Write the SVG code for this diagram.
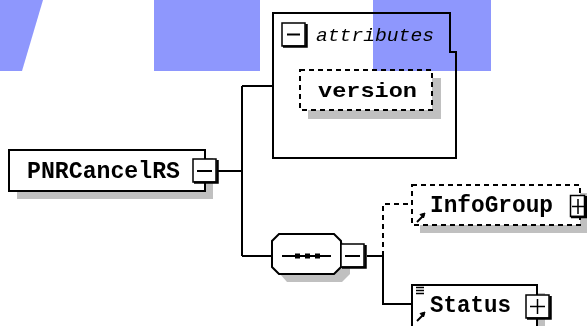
<svg xmlns="http://www.w3.org/2000/svg" width="587" height="326" viewBox="0 0 587 326">
<style>
.box{fill:#fff;stroke:#000;stroke-width:2}
.dash{fill:#fff;stroke:#000;stroke-width:2;stroke-dasharray:5,4}
.shadow{fill:#c0c0c0}
.ln{fill:none;stroke:#000;stroke-width:2}
.dl{fill:none;stroke:#000;stroke-width:2;stroke-dasharray:5,4}
.t{font-family:"Liberation Mono",monospace;font-weight:bold;fill:#000}
.it{font-family:"Liberation Mono",monospace;font-style:italic;fill:#000}
.blue{fill:#8e97fd;mix-blend-mode:multiply}
</style>
<defs>
<g id="btn"><rect x="0" y="0" width="23" height="23" fill="#fff" stroke="#000" stroke-width="1.5"/><path d="M1,23.5H24.5V1" fill="none" stroke="#000" stroke-width="2.5"/></g>
<g id="arr"><path d="M1,10L8,3" stroke="#000" stroke-width="2"/><path d="M9,1L4,2.5L7.5,6Z" fill="#000" stroke="#000" stroke-width="1"/></g>
</defs>
<rect width="587" height="326" fill="#fff"/>
<g id="connectors">
<path class="ln" d="M218,171H242M242,86V256M242,86H273M242,256H272"/>
<path class="ln" d="M367,256H383V304H412"/>
<path class="dl" d="M383,256V204H412"/>
</g>
<g id="attributes">
<path class="ln" d="M273,13H450V52H456V158H273Z" fill="#fff"/>
<use href="#btn" x="282" y="23"/>
<path d="M287,34.5H300" stroke="#000" stroke-width="2"/>
<text class="it" x="316" y="41" font-size="18" textLength="118" lengthAdjust="spacingAndGlyphs">attributes</text>
</g>
<g id="version">
<rect class="shadow" x="308" y="78" width="133" height="41"/>
<rect class="dash" x="300" y="70" width="132" height="40"/>
<text class="t" x="318" y="97" font-size="21" textLength="99" lengthAdjust="spacingAndGlyphs">version</text>
</g>
<g id="PNRCancelRS">
<rect class="shadow" x="17" y="158" width="196" height="41"/>
<rect class="box" x="9" y="150" width="196" height="41"/>
<text class="t" x="27" y="178" font-size="24" textLength="153" lengthAdjust="spacingAndGlyphs">PNRCancelRS</text>
<use href="#btn" x="193" y="159"/>
<path d="M197,171H212" stroke="#000" stroke-width="2"/>
</g>
<g id="sequence">
<path class="shadow" d="M287,242H342L350,250V274L342,282H287L280,274V250Z"/>
<path class="box" d="M279,234H334L341,241V267L334,274H279L272,267V241Z"/>
<path d="M282,256H331" stroke="#000" stroke-width="2"/>
<rect x="295" y="253.5" width="5" height="5"/>
<rect x="305" y="253.5" width="5" height="5"/>
<rect x="315" y="253.5" width="5" height="5"/>
<use href="#btn" x="341" y="244"/>
<path d="M345,256H360" stroke="#000" stroke-width="2"/>
</g>
<g id="InfoGroup">
<rect class="shadow" x="420" y="193" width="167" height="40"/>
<rect class="dash" x="412" y="185" width="168" height="40"/>
<use href="#arr" x="416" y="212"/>
<text class="t" x="430" y="212" font-size="23" textLength="123" lengthAdjust="spacingAndGlyphs">InfoGroup</text>
<rect x="570.5" y="195.5" width="14" height="21" fill="#fff" stroke="#000" stroke-width="1.5"/>
<path d="M571,217H586V196" fill="none" stroke="#000" stroke-width="2.5"/>
<path d="M572,206.5H584M578,199V214" stroke="#000" stroke-width="1.5"/>
</g>
<g id="Status">
<rect class="shadow" x="420" y="293" width="125" height="40"/>
<rect class="box" x="412" y="285" width="125" height="45"/>
<path d="M416,287.5H424M416,290.5H424M416,293.5H424" stroke="#000" stroke-width="1.3"/>
<use href="#arr" x="416" y="311"/>
<text class="t" x="430" y="312" font-size="23" textLength="81" lengthAdjust="spacingAndGlyphs">Status</text>
<use href="#btn" x="526" y="295"/>
<path d="M530,306.5H545M537.5,299V314" stroke="#000" stroke-width="1.5"/>
</g>
<path class="blue" d="M0,0H43L22,71H0Z"/>
<rect class="blue" x="154" y="0" width="106" height="71"/>
<rect class="blue" x="373" y="0" width="118" height="71"/>
</svg>
